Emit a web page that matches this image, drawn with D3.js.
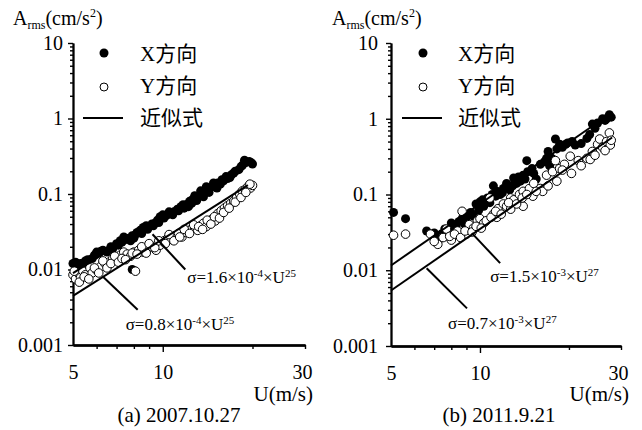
<!DOCTYPE html>
<html>
<head>
<meta charset="utf-8">
<script src="https://cdn.jsdelivr.net/npm/d3@7"></script>
<style>
    body { margin: 0; background: #fff; }
    svg text { font-family: "Liberation Serif", "Times New Roman", "Noto Sans CJK SC", serif; fill: #000; }
</style>
</head>
<body>
<div id="chart"></div>
<script>
// ---- data ----
// Axis ticks (log scales)
var yTickValues = [0.001, 0.01, 0.1, 1, 10];
var yTickLabels = ["0.001", "0.01", "0.1", "1", "10"];
var xLabelValues = [5, 10, 30];
var xMinorValues = [6, 7, 8, 9, 20, 30];

// (a) 2007.10.27 : X direction
var aXU = [5.0, 5.1, 5.2, 5.3, 5.5, 5.6, 5.8, 6.0, 6.1, 6.3, 6.5, 6.6, 6.8, 7.0, 7.2, 7.3, 7.5, 7.7, 7.9, 7.9,
           8.0, 8.2, 8.4, 8.6, 8.8, 9.0, 9.2, 9.4, 9.6, 9.8, 10.0, 10.3, 10.6, 10.9, 11.2, 11.5, 11.8, 12.0,
           12.3, 12.6, 12.9, 13.2, 13.5, 13.8, 14.1, 14.4, 14.7, 15.0, 15.3, 15.6, 16.0, 16.5, 17.0, 17.5,
           18.0, 18.5, 19.0, 19.5, 20.0,
           5.4, 5.9, 6.2, 6.7, 7.1, 7.4, 7.8, 8.1, 8.5, 8.9, 9.3, 9.7, 10.1, 10.5, 10.8, 11.3, 11.7, 12.2,
           12.5, 12.8, 13.0, 13.4, 13.7, 14.0, 14.3, 14.8, 15.2, 15.8, 16.3, 16.8, 17.3, 18.3, 18.8, 19.8];
var aXA = [0.012, 0.0125, 0.011, 0.012, 0.013, 0.0135, 0.014, 0.017, 0.0165, 0.018, 0.017, 0.018, 0.019, 0.022, 0.024, 0.023, 0.025, 0.026, 0.028, 0.010,
           0.026, 0.031, 0.033, 0.036, 0.038, 0.037, 0.040, 0.041, 0.045, 0.050, 0.053, 0.052, 0.056, 0.058, 0.063, 0.068, 0.065, 0.072,
           0.080, 0.085, 0.090, 0.095, 0.100, 0.105, 0.110, 0.120, 0.125, 0.130, 0.140, 0.135, 0.150, 0.160, 0.180, 0.200,
           0.210, 0.240, 0.260, 0.270, 0.250,
           0.0115, 0.0155, 0.0175, 0.020, 0.021, 0.027, 0.024, 0.029, 0.030, 0.034, 0.038, 0.042, 0.048, 0.058, 0.053, 0.060, 0.072, 0.068,
           0.075, 0.095, 0.082, 0.110, 0.092, 0.125, 0.105, 0.140, 0.120, 0.155, 0.170, 0.165, 0.190, 0.230, 0.280, 0.260];
// (a) Y direction
var aYU = [5.0, 5.1, 5.2, 5.3, 5.4, 5.5, 5.7, 5.8, 6.0, 6.2, 6.4, 6.6, 6.8, 7.0, 7.2, 7.4, 7.6, 7.8, 8.0, 8.1,
           8.3, 8.6, 8.9, 9.2, 9.5, 9.8, 10.1, 10.4, 10.7, 11.0, 11.3, 11.6, 11.9, 12.2, 12.5, 12.8, 13.1,
           13.4, 13.7, 14.0, 14.3, 14.6, 15.0, 15.3, 15.7, 16.1, 16.5, 16.9, 17.3, 17.7, 18.1, 18.5, 18.9,
           19.3, 19.7, 20.0,
           5.05, 5.25, 5.45, 5.65, 5.9, 6.1, 6.3, 6.5, 6.7, 6.9, 7.1, 7.3, 7.5, 7.9, 8.2, 8.5, 8.8, 9.0, 9.4,
           9.7, 10.2, 10.5, 10.9, 11.4, 11.8, 12.3, 12.7, 13.2, 13.6, 14.1, 14.5, 14.9, 15.5, 16.0, 16.7,
           17.5, 18.3, 19.0, 19.6];
var aYA = [0.0085, 0.0075, 0.009, 0.0078, 0.0095, 0.0085, 0.0105, 0.009, 0.0098, 0.011, 0.012, 0.0125, 0.014, 0.0135, 0.0155, 0.017, 0.016, 0.015, 0.017, 0.0095,
           0.018, 0.017, 0.019, 0.020, 0.018, 0.021, 0.024, 0.026, 0.025, 0.028, 0.030, 0.027, 0.031, 0.033, 0.034, 0.036, 0.033,
           0.038, 0.041, 0.037, 0.043, 0.046, 0.044, 0.055, 0.060, 0.065, 0.070, 0.075, 0.080, 0.090, 0.100, 0.110, 0.115,
           0.125, 0.120, 0.130,
           0.0095, 0.0068, 0.0080, 0.0075, 0.0105, 0.0090, 0.0130, 0.0105, 0.0120, 0.0150, 0.0125, 0.0140, 0.0135, 0.0165, 0.0160, 0.0200, 0.0165, 0.0220, 0.0195,
           0.024, 0.022, 0.029, 0.024, 0.027, 0.034, 0.030, 0.039, 0.037, 0.034, 0.045, 0.040, 0.050, 0.048, 0.057, 0.065,
           0.078, 0.090, 0.105, 0.135];

// (b) 2011.9.21 : X direction
var bXU = [5.1, 5.6, 6.6, 7.0, 7.3, 7.6, 8.0, 8.3, 8.7, 9.0, 9.3, 9.7, 10.0, 10.3, 10.6, 11.0, 11.1, 11.4, 11.7, 12.0,
           12.3, 12.6, 13.0, 13.3, 13.7, 14.0, 14.4, 14.5, 15.0, 15.5, 16.0, 16.8, 17.0, 17.5, 18.0, 18.2, 18.6,
           19.5, 19.8, 21.0, 22.0, 23.0, 24.0, 25.0, 26.0, 26.8, 27.4, 27.8,
           7.4, 7.8, 8.2, 8.5, 8.9, 9.5, 9.9, 10.2, 10.8, 11.3, 11.9, 12.4, 12.9, 13.5, 14.2, 15.2, 16.5, 17.2,
           19.0, 20.5, 23.5, 24.5, 26.5];
var bXA = [0.058, 0.048, 0.033, 0.031, 0.026, 0.035, 0.042, 0.038, 0.048, 0.050, 0.058, 0.075, 0.080, 0.070, 0.090, 0.100, 0.130, 0.110, 0.100, 0.120,
           0.140, 0.115, 0.165, 0.140, 0.150, 0.180, 0.280, 0.200, 0.220, 0.160, 0.250, 0.300, 0.370, 0.300, 0.540, 0.400, 0.460,
           0.460, 0.480, 0.450, 0.470, 0.550, 0.850, 0.880, 1.000, 1.000, 1.130, 1.050,
           0.030, 0.028, 0.034, 0.044, 0.040, 0.052, 0.062, 0.085, 0.078, 0.095, 0.105, 0.125, 0.130, 0.170, 0.160, 0.190, 0.270, 0.240,
           0.420, 0.500, 0.620, 0.750, 0.950];
// (b) Y direction
var bYU = [5.1, 5.6, 6.8, 7.2, 7.5, 7.7, 8.0, 8.4, 8.7, 9.0, 9.2, 9.5, 9.8, 10.0, 10.3, 10.8, 11.1, 11.4, 11.5, 12.0,
           12.3, 12.7, 12.7, 13.0, 13.6, 14.0, 14.0, 14.7, 15.1, 15.2, 16.0, 16.3, 16.8, 17.6, 18.0, 18.2, 18.6,
           19.3, 20.2, 20.4, 21.5, 23.0, 23.6, 24.0, 25.0, 25.4, 26.0, 26.8, 27.4, 27.6,
           7.0, 7.9, 8.2, 8.6, 8.9, 9.4, 9.7, 10.1, 10.5, 10.9, 11.3, 11.8, 12.5, 13.3, 13.9, 14.4, 15.5, 17.0,
           19.0, 22.0, 24.5, 26.5, 27.8];
var bYA = [0.029, 0.030, 0.030, 0.022, 0.027, 0.035, 0.025, 0.033, 0.060, 0.030, 0.040, 0.036, 0.045, 0.048, 0.042, 0.090, 0.055, 0.050, 0.065, 0.075,
           0.070, 0.090, 0.064, 0.085, 0.100, 0.110, 0.070, 0.120, 0.095, 0.140, 0.120, 0.110, 0.180, 0.200, 0.280, 0.150, 0.220,
           0.250, 0.320, 0.190, 0.280, 0.300, 0.290, 0.370, 0.460, 0.540, 0.420, 0.500, 0.650, 0.450,
           0.024, 0.028, 0.030, 0.027, 0.033, 0.032, 0.038, 0.036, 0.045, 0.050, 0.060, 0.055, 0.078, 0.075, 0.090, 0.100, 0.110, 0.130,
           0.210, 0.240, 0.330, 0.380, 0.520];

// Fitted lines (coefficient, exponent, U range) as drawn
var aFitCoef = [1.6e-4, 0.8e-4];
var aFitExp = [2.5, 2.5];
var aFitEnd = [20, 19.3];
var bFitCoef = [1.5e-4, 0.7e-4];
var bFitExp = [2.7, 2.7];
var bFitEnd = [24.1, 28];

// Callout leader lines [U0, A0, U1, A1]
var aCallouts = [[9.24, 0.0293, 11.9, 0.010], [6.29, 0.00807, 8.24, 0.00293]];
var bCallouts = [[9.39, 0.0309, 11.7, 0.0124], [6.6, 0.0106, 9.04, 0.00314]];

var aFitLabels = [["σ=1.6×10", "-4", "×U", "25"], ["σ=0.8×10", "-4", "×U", "25"]];
var bFitLabels = [["σ=1.5×10", "-3", "×U", "27"], ["σ=0.7×10", "-3", "×U", "27"]];

var legendLabels = ["X方向", "Y方向", "近似式"];

function init() {
    var w = 642;
    var h = 430;

    var svg = d3.select("#chart")
                .append("svg")
                .attr("width", w)
                .attr("height", h);

    drawPanel(svg, {
        x0: 73, x1: 305, y0: 345, y1: 43,
        xU: aXU, xA: aXA, yU: aYU, yA: aYA,
        coef: aFitCoef, exp: aFitExp, end: aFitEnd,
        callouts: aCallouts, fitLabels: aFitLabels,
        labelOffsets: [[2, 13], [-12, 20]],
        titleX: 13, tickPad: 5, legendX: 104, legendTextX: 140,
        caption: "(a) 2007.10.27", captionX: 179, uLabelX: 313
    });

    drawPanel(svg, {
        x0: 391, x1: 621, y0: 346, y1: 43,
        xU: bXU, xA: bXA, yU: bYU, yA: bYA,
        coef: bFitCoef, exp: bFitExp, end: bFitEnd,
        callouts: bCallouts, fitLabels: bFitLabels,
        labelOffsets: [[-10, 19], [-19, 21]],
        titleX: 332, tickPad: 8, legendX: 423, legendTextX: 458,
        caption: "(b) 2011.9.21", captionX: 499, uLabelX: 629
    });
}

// write text with superscript / subscript pieces
function richText(g, x, y, parts, size, anchor) {
    var t = g.append("text")
        .attr("x", x)
        .attr("y", y)
        .attr("text-anchor", anchor || "start")
        .style("font-size", size + "px");
    var shift = 0;
    parts.forEach(function(p) {
        var target = p[1] === "sup" ? -Math.round(size * 0.38) : (p[1] === "sub" ? Math.round(size * 0.22) : 0);
        t.append("tspan")
            .attr("dy", target - shift)
            .style("font-size", p[1] === "n" ? size + "px" : Math.round(size * 0.62) + "px")
            .text(p[0]);
        shift = target;
    });
    return t;
}

function drawPanel(svg, p) {
    var g = svg.append("g");

    var x = d3.scaleLog().domain([5, 30]).range([p.x0, p.x1]);
    var y = d3.scaleLog().domain([0.001, 10]).range([p.y0, p.y1]);

    // minor ticks on y: 2..9 for each decade
    var yMinor = [];
    yTickValues.slice(0, -1).forEach(function(d) {
        for (var k = 2; k <= 9; k++) yMinor.push(d * k);
    });

    g.append("g")
        .attr("class", "axis")
        .attr("transform", "translate(" + p.x0 + ",0)")
        .call(d3.axisLeft(y).tickValues(yMinor).tickSize(3).tickSizeOuter(0).tickFormat(""));

    g.append("g")
        .attr("class", "axis")
        .attr("transform", "translate(" + p.x0 + ",0)")
        .call(d3.axisLeft(y).tickValues(yTickValues).tickSize(5).tickSizeOuter(0).tickPadding(p.tickPad)
            .tickFormat(function(d, i) { return yTickLabels[i]; }));

    // x axis: long tick at 10, short ticks elsewhere, labels at 5/10/30
    g.append("g")
        .attr("class", "axis")
        .attr("transform", "translate(0," + p.y0 + ")")
        .call(d3.axisBottom(x).tickValues(xMinorValues).tickSize(4).tickSizeOuter(0).tickFormat(""));

    g.append("g")
        .attr("class", "axis")
        .attr("transform", "translate(0," + p.y0 + ")")
        .call(d3.axisBottom(x).tickValues([10]).tickSize(7).tickSizeOuter(0).tickFormat(""));

    g.append("g")
        .attr("class", "axis xlab")
        .attr("transform", "translate(0," + p.y0 + ")")
        .call(d3.axisBottom(x).tickValues(xLabelValues).tickSize(0).tickSizeOuter(0).tickPadding(20)
            .tickFormat(d3.format("d")));

    g.selectAll(".axis path").attr("stroke", "#000").attr("stroke-width", 1.8);
    g.selectAll(".axis line").attr("stroke", "#000").attr("stroke-width", 1.4);
    g.selectAll(".axis text").style("font-size", "20px").attr("fill", "#000");
    g.selectAll(".xlab text").filter(function(d) { return d === 30; }).attr("dx", "-3");

    // data points: X direction filled, Y direction open
    var xPts = p.xU.map(function(u, i) { return [u, p.xA[i]]; });
    var yPts = p.yU.map(function(u, i) { return [u, p.yA[i]]; });

    g.append("g").selectAll("circle")
        .data(xPts)
        .enter()
        .append("circle")
        .attr("cx", function(d) { return x(d[0]); })
        .attr("cy", function(d) { return y(d[1]); })
        .attr("r", 4.5)
        .attr("fill", "#000");

    g.append("g").selectAll("circle")
        .data(yPts)
        .enter()
        .append("circle")
        .attr("cx", function(d) { return x(d[0]); })
        .attr("cy", function(d) { return y(d[1]); })
        .attr("r", 4.3)
        .attr("fill", "#fff")
        .attr("stroke", "#000")
        .attr("stroke-width", 1);

    // fitted lines
    var line = d3.line()
        .x(function(d) { return x(d[0]); })
        .y(function(d) { return y(d[1]); });

    p.coef.forEach(function(c, i) {
        var pts = [5, p.end[i]].map(function(u) { return [u, c * Math.pow(u, p.exp[i])]; });
        g.append("path")
            .attr("d", line(pts))
            .attr("fill", "none")
            .attr("stroke", "#000")
            .attr("stroke-width", 2);
    });

    // leader lines and formula labels
    p.callouts.forEach(function(c, i) {
        g.append("line")
            .attr("x1", x(c[0])).attr("y1", y(c[1]))
            .attr("x2", x(c[2])).attr("y2", y(c[3]))
            .attr("stroke", "#000")
            .attr("stroke-width", 2);
        var lab = p.fitLabels[i];
        richText(g, x(c[2]) + p.labelOffsets[i][0], y(c[3]) + p.labelOffsets[i][1],
            [[lab[0], "n"], [lab[1], "sup"], [lab[2], "n"], [lab[3], "sup"]], 17);
    });

    // legend
    var lg = g.append("g");
    lg.append("circle").attr("cx", p.legendX).attr("cy", 53).attr("r", 4.5).attr("fill", "#000");
    lg.append("circle").attr("cx", p.legendX).attr("cy", 87).attr("r", 4)
        .attr("fill", "#fff").attr("stroke", "#000").attr("stroke-width", 1);
    lg.append("line").attr("x1", p.legendX - 21).attr("x2", p.legendX + 19)
        .attr("y1", 118).attr("y2", 118).attr("stroke", "#000").attr("stroke-width", 2);
    legendLabels.forEach(function(t, i) {
        lg.append("text")
            .attr("x", p.legendTextX)
            .attr("y", 61 + i * 32)
            .style("font-size", "21px")
            .text(t);
    });

    // axis titles and caption
    richText(g, p.titleX, 25, [["A", "n"], ["rms", "sub"], ["(cm/s", "n"], ["2", "sup"], [")", "n"]], 20);

    g.append("text")
        .attr("x", p.uLabelX)
        .attr("y", 401)
        .attr("text-anchor", "end")
        .style("font-size", "21px")
        .text("U(m/s)");

    g.append("text")
        .attr("x", p.captionX)
        .attr("y", 422)
        .attr("text-anchor", "middle")
        .style("font-size", "21px")
        .text(p.caption);
}

window.onload = init;
</script>
</body>
</html>
